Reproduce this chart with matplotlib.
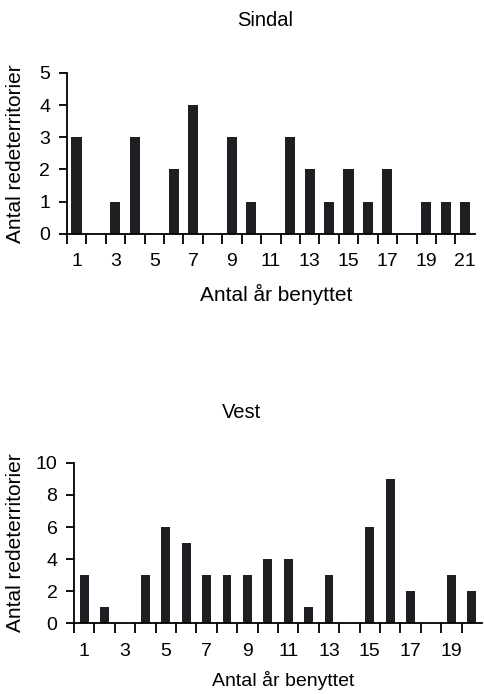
import numpy as np
import matplotlib
matplotlib.use("Agg")
from matplotlib import pyplot as plt

plt.rcParams['font.family'] = ['Liberation Sans', 'DejaVu Sans']

sindal_years = list(range(1, 22))
sindal_counts = [3, 0, 1, 3, 0, 2, 4, 0, 3, 1, 0, 3, 2, 1, 2, 1, 2, 0, 1, 1, 1]
sindal_yticks = [0, 1, 2, 3, 4, 5]

vest_years = list(range(1, 21))
vest_counts = [3, 1, 0, 3, 6, 5, 3, 3, 3, 4, 4, 1, 3, 0, 6, 9, 2, 0, 3, 2]
vest_yticks = [0, 2, 4, 6, 8, 10]

BAR = '#1e1f22'


def draw(ax, years, counts, yticks, width, xlab_size, xlab_y, ylab_x):
    ax.bar(years, counts, width=width, color=BAR)
    n = len(years)
    ax.set_xlim(0.5, n + 0.5)
    ax.set_ylim(yticks[0], yticks[-1])
    ax.set_yticks(yticks)
    # tick marks between the bars, labels on every second year
    ax.set_xticks(np.arange(0.5, n + 0.5, 1.0))
    ax.set_xticklabels([])
    ax.set_xticks(years[::2], minor=True)
    ax.set_xticklabels([str(y) for y in years[::2]], minor=True)
    ax.tick_params(axis='x', which='major', direction='out', length=7, width=1.3)
    ax.tick_params(axis='x', which='minor', length=0, pad=14, labelsize=14)
    ax.tick_params(axis='y', direction='out', length=6, width=1.3, pad=6, labelsize=14)
    for s in ['top', 'right']:
        ax.spines[s].set_visible(False)
    for s in ['left', 'bottom']:
        ax.spines[s].set_linewidth(1.3)
    ax.set_xlabel("Antal år benyttet", fontsize=xlab_size)
    ax.xaxis.set_label_coords(0.512, xlab_y)
    ax.set_ylabel("Antal redeterritorier", fontsize=15)
    ax.yaxis.set_label_coords(ylab_x, 0.5)


fig = plt.figure(figsize=(4.84, 6.94), dpi=100)
ax1 = fig.add_axes([0.138, 0.663, 0.843, 0.232])
ax2 = fig.add_axes([0.153, 0.102, 0.843, 0.231])
draw(ax1, sindal_years, sindal_counts, sindal_yticks, 0.52, 15, -0.31, -0.103)
draw(ax2, vest_years, vest_counts, vest_yticks, 0.43, 14, -0.30, -0.12)
fig.text(0.547, 0.971, "Sindal", fontsize=14.5, ha='center', va='center')
fig.text(0.500, 0.406, "Vest", fontsize=14.5, ha='center', va='center')
fig.savefig("out.png", dpi=100)
